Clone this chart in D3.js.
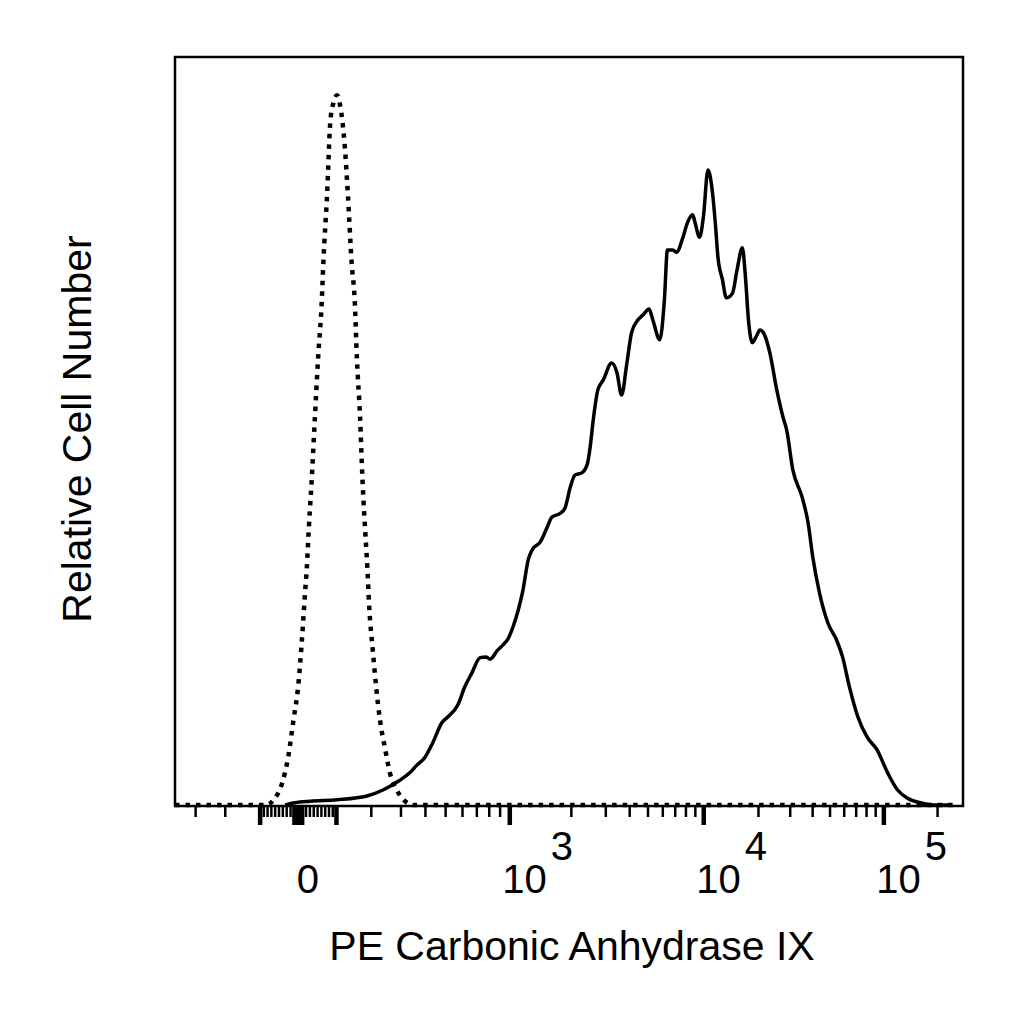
<!DOCTYPE html>
<html lang="en">
  <head>
    <meta charset="utf-8" />
    <title>PE Carbonic Anhydrase IX</title>
    <style>
      body {
        margin: 0;
        background: #fff;
      }
      svg {
        display: block;
        font-family: "Liberation Sans", Arial, sans-serif;
      }
      .frame {
        fill: none;
        stroke: #000;
        stroke-width: 2.5px;
      }
      .isotype {
        fill: none;
        stroke: #000;
        stroke-width: 4.5px;
        stroke-dasharray: 4.5 6;
      }
      .stained {
        fill: none;
        stroke: #000;
        stroke-width: 3.5px;
        stroke-linejoin: round;
      }
      .tick-label {
        font-size: 40px;
        fill: #000;
      }
      .axis-title {
        font-size: 41px;
        fill: #000;
      }
    </style>
  </head>
  <body>
    <svg width="1024" height="1024"></svg>

    <script src="https://cdnjs.cloudflare.com/ajax/libs/d3/7.8.5/d3.min.js"></script>
    <script>
      // histogram bins are in display channels (0..1024 across the logicle range)
      const isotypeChannel = [
        0, 110, 120, 129, 140, 148, 155, 161, 166, 170, 173, 174, 179, 183,
        187, 192, 194, 199, 203, 207, 212, 216, 222, 226, 231, 235, 238, 242,
        245, 250, 251, 254, 259, 263, 268, 275, 281, 290, 299, 311, 1024,
      ];
      const isotypeCount = [
        0, 0, 0, 0.7, 2.9, 6.4, 11.4, 15.8, 22.1, 28.3, 32.8, 35.0, 43.9, 51.9,
        59.5, 67.5, 72.5, 81.8, 91.2, 93.8, 94.9, 93.5, 88.1, 81.8, 72.5, 67.5,
        59.5, 51.9, 43.9, 34.5, 32.8, 26.5, 20.3, 15.8, 11.4, 7.4, 4.3, 2.0,
        0.7, 0, 0,
      ];

      const stainedChannel = [
        144, 157, 177, 212, 251, 272, 294, 307, 316, 327, 337, 349, 357, 370,
        379, 388, 399, 407, 412, 422, 429, 436, 442, 449, 455, 462, 467, 478,
        487, 493, 504, 510, 517, 523, 532, 539, 543, 547, 553, 560, 571, 578,
        584, 591, 597, 605, 612, 620, 625, 634, 640, 644, 651, 656, 664, 670,
        677, 680, 686, 691, 697, 703, 707, 710, 716, 721, 729, 735, 742, 746,
        750, 755, 760, 765, 772, 778, 787, 795, 800, 808, 820, 828, 834, 843,
        854, 865, 873, 882, 893, 905, 918, 932, 945, 958, 975, 992, 1014,
      ];
      const stainedCount = [
        0, 0.3, 0.5, 0.7, 1.2, 2.0, 3.3, 4.3, 5.3, 6.4, 8.3, 11.0, 11.8, 13.4,
        15.8, 17.6, 19.7, 19.8, 19.5, 20.7, 21.4, 22.3, 23.8, 26.1, 28.7, 32.8,
        34.1, 35.2, 37.2, 38.5, 39.0, 39.7, 42.5, 44.1, 44.4, 45.5, 47.9, 51.5,
        55.5, 56.8, 59.1, 57.8, 54.8, 59.1, 63.1, 64.8, 65.5, 66.3, 64.8, 62.2,
        67.5, 74.2, 74.2, 73.9, 75.8, 77.8, 78.9, 77.9, 75.9, 78.6, 84.9, 81.8,
        77.3, 73.3, 70.2, 67.8, 68.4, 71.5, 74.5, 70.6, 64.8, 61.8, 62.6, 63.5,
        62.6, 60.4, 55.5, 51.9, 50.1, 44.8, 41.2, 37.7, 33.2, 28.3, 24.3, 22.1,
        19.8, 15.8, 11.8, 9.1, 7.4, 4.3, 2.0, 0.9, 0.3, 0, 0,
      ];

      // labelled ticks: value, mantissa text, exponent text
      const labelValues = [0, 1e3, 1e4, 1e5];
      const labelBase = ["0", "10", "10", "10"];
      const labelExp = ["", "3", "4", "5"];
      const tickDecades = [10, 100, 1000, 10000, 100000];

      const xTitle = "PE Carbonic Anhydrase IX";
      const yTitle = "Relative Cell Number";

      // logicle parameters (FlowJo style)
      const T = 262144;
      const W = 0.69;
      const M = 4.4;
      const A = 0;

      const plotLeft = 175;
      const plotTop = 57;
      const plotRight = 963;
      const plotBottom = 806;

      const logicle = makeLogicle(T, W, M, A);
      const minValue = logicle.inverse(0);

      const x = d3.scaleLinear().domain([0, 1024]).range([plotLeft, 958]);
      const y = d3.scaleLinear().domain([0, 100]).range([805, plotTop]);

      const svg = d3.select("svg");

      // minor and major tick values
      const minorTicks = [];
      const majorTicks = [0];
      tickDecades.forEach((dec) => {
        for (let m = 1; m <= 9; m++) {
          const v = m * dec;
          const list = m === 1 ? majorTicks : minorTicks;
          if (v <= T) list.push(v);
          if (-v >= minValue) list.push(-v);
        }
      });
      const toChannel = (v) => logicle.scale(v) * 1024;

      const minorAxis = d3
        .axisBottom(x)
        .tickValues(minorTicks.map(toChannel))
        .tickSize(11)
        .tickSizeOuter(0)
        .tickFormat("");
      const majorAxis = d3
        .axisBottom(x)
        .tickValues(majorTicks.map(toChannel))
        .tickSize(19)
        .tickSizeOuter(0)
        .tickFormat("");

      const gMinor = svg
        .append("g")
        .attr("transform", `translate(0,${plotBottom})`)
        .call(minorAxis);
      gMinor.select(".domain").remove();
      gMinor.selectAll("line").attr("stroke", "#000").attr("stroke-width", 2.5);

      const gMajor = svg
        .append("g")
        .attr("transform", `translate(0,${plotBottom})`)
        .call(majorAxis);
      gMajor.select(".domain").remove();
      gMajor.selectAll("line").attr("stroke", "#000").attr("stroke-width", 4.5);

      // tick labels
      labelValues.forEach((v, i) => {
        const cx = x(toChannel(v));
        const t = svg
          .append("text")
          .attr("class", "tick-label")
          .attr("x", labelExp[i] ? cx - 7 : cx - 1)
          .attr("y", 893)
          .text(labelBase[i]);
        if (labelExp[i]) {
          t.append("tspan").attr("dx", 4).attr("dy", -33).text(labelExp[i]);
        }
      });

      // frame
      svg
        .append("rect")
        .attr("class", "frame")
        .attr("x", plotLeft)
        .attr("y", plotTop)
        .attr("width", plotRight - plotLeft)
        .attr("height", plotBottom - plotTop);

      const line = d3
        .line()
        .x((d) => x(d[0]))
        .y((d) => y(d[1]))
        .curve(d3.curveMonotoneX);

      svg
        .append("path")
        .attr("class", "isotype")
        .attr("d", line(d3.zip(isotypeChannel, isotypeCount)));

      svg
        .append("path")
        .attr("class", "stained")
        .attr("d", line(d3.zip(stainedChannel, stainedCount)));

      // axis titles
      svg
        .append("text")
        .attr("class", "axis-title")
        .attr("x", 572)
        .attr("y", 960)
        .attr("text-anchor", "middle")
        .text(xTitle);

      svg
        .append("text")
        .attr("class", "axis-title")
        .attr("transform", "translate(91,429) rotate(-90)")
        .attr("text-anchor", "middle")
        .text(yTitle);

      function makeLogicle(T, W, M, A) {
        const w = W / (M + A);
        const x2 = A / (M + A);
        const x1 = x2 + w;
        const x0 = x2 + 2 * w;
        const b = (M + A) * Math.LN10;

        // solve 2 ln(d) + w d = 2 ln(b) - w b for d
        const target = 2 * Math.log(b) - w * b;
        let lo = 1e-12;
        let hi = b;
        for (let i = 0; i < 200; i++) {
          const mid = (lo + hi) / 2;
          if (2 * Math.log(mid) + w * mid < target) lo = mid;
          else hi = mid;
        }
        const d = (lo + hi) / 2;

        const ca = Math.exp(x0 * (b + d));
        const mfa = Math.exp(b * x1) - ca / Math.exp(d * x1);
        const a = T / (Math.exp(b) - mfa - ca / Math.exp(d));
        const c = ca * a;
        const f = -mfa * a;

        // display fraction -> data value
        function inverse(p) {
          const neg = p < x1;
          const q = neg ? 2 * x1 - p : p;
          const v = a * Math.exp(b * q) - c * Math.exp(-d * q) + f;
          return neg ? -v : v;
        }

        // data value -> display fraction
        function scale(v) {
          let lo = -1;
          let hi = 2;
          for (let i = 0; i < 100; i++) {
            const mid = (lo + hi) / 2;
            if (inverse(mid) < v) lo = mid;
            else hi = mid;
          }
          return (lo + hi) / 2;
        }

        return { inverse, scale };
      }
    </script>
  </body>
</html>
